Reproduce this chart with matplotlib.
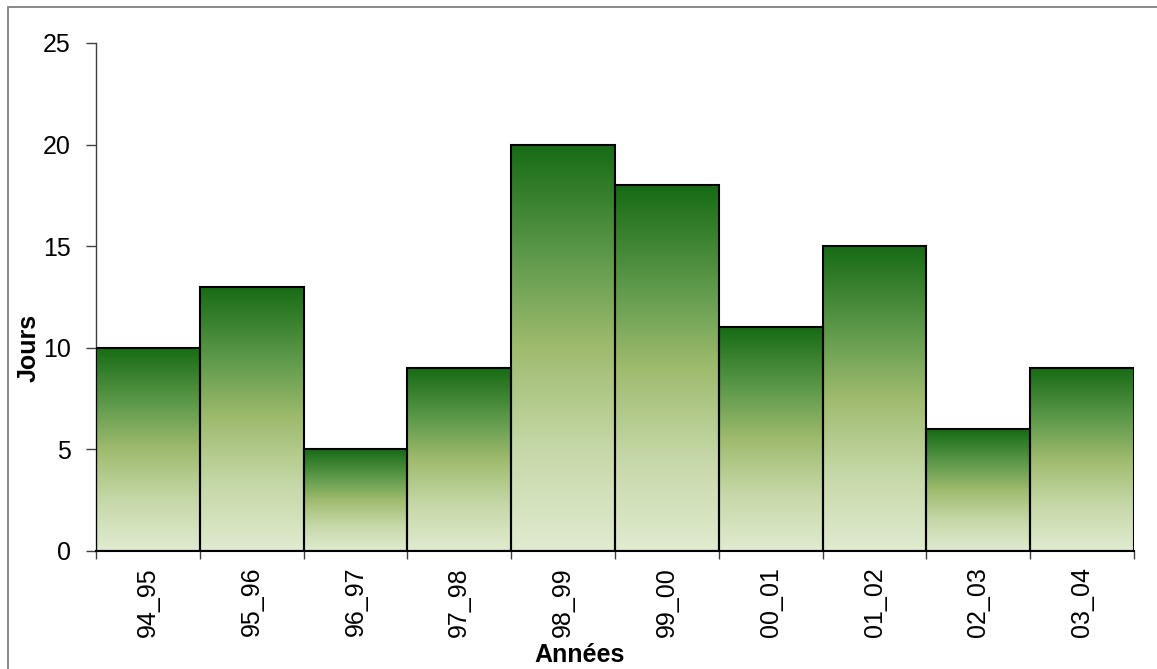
import numpy as np
import matplotlib
matplotlib.use("Agg")
import matplotlib.pyplot as plt
from matplotlib.colors import LinearSegmentedColormap
from matplotlib.patches import Rectangle

plt.rcParams['font.family'] = ['Liberation Sans', 'DejaVu Sans']

seasons = ["94_95", "95_96", "96_97", "97_98", "98_99",
           "99_00", "00_01", "01_02", "02_03", "03_04"]
jours = [10, 13, 5, 9, 20, 18, 11, 15, 6, 9]

W, H = 1157, 669
fig = plt.figure(figsize=(W / 100, H / 100), dpi=100)
ax = fig.add_axes([96 / W, 1 - 551 / H, (1134 - 96) / W, (551 - 43) / H])

# frame around the chart area (top and left edges visible)
fig.add_artist(Rectangle((8 / W, -0.1), 1.2, (1 - 7 / H) + 0.1,
                         transform=fig.transFigure, fill=False,
                         edgecolor="#808080", linewidth=1.3))

green = LinearSegmentedColormap.from_list(
    "green_fade",
    [(0.0, "#e0ebd0"), (0.25, "#c6d8a8"), (0.5, "#9fbb6e"),
     (0.72, "#5f9a4b"), (1.0, "#176b14")])
grad = np.linspace(0, 1, 256).reshape(-1, 1)

x = np.arange(len(seasons))
bars = ax.bar(x, jours, width=1.0, facecolor="none", edgecolor="black",
              linewidth=1.5, zorder=3)
for b in bars:
    x0, w, h = b.get_x(), b.get_width(), b.get_height()
    ax.imshow(grad, cmap=green, origin="lower", aspect="auto",
              extent=(x0, x0 + w, 0, h), zorder=2, interpolation="bilinear")

ax.set_xlim(-0.5, len(seasons) - 0.5)
ax.set_ylim(0, 25)
ax.set_yticks([0, 5, 10, 15, 20, 25])

# boundary ticks between bars, labels at bar centres
ax.set_xticks(np.arange(-0.5, len(seasons), 1.0))
ax.set_xticklabels([])
ax.set_xticks(x, minor=True)
ax.set_xticklabels(seasons, minor=True, rotation=90, fontsize=18)
ax.tick_params(axis="x", which="minor", length=0, pad=11.5)
ax.tick_params(axis="x", which="major", length=6, width=1.0, color="#404040",
               direction="out")
ax.tick_params(axis="y", length=7, width=1.0, color="#404040",
               direction="out", labelsize=18, pad=11)

for s in ("top", "right"):
    ax.spines[s].set_visible(False)
ax.spines["left"].set_color("#404040")
ax.spines["left"].set_linewidth(1.0)
ax.spines["bottom"].set_color("black")
ax.spines["bottom"].set_linewidth(1.5)
ax.spines["bottom"].set_zorder(4)

# axis titles
fig.text(29 / W, 1 - 348 / H, "Jours", fontsize=18, fontweight="bold",
         ha="center", va="center", rotation=90)
fig.text(580 / W, 1 - 655 / H, "Années", fontsize=18, fontweight="bold",
         ha="center", va="center")

fig.savefig("out.png", dpi=100)
